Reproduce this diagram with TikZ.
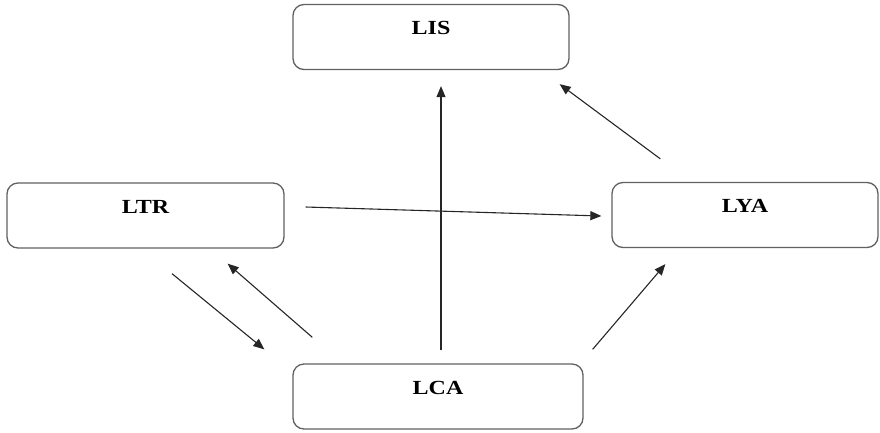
\documentclass[tikz,border=0pt]{standalone}
\usepackage{fontspec}
\setmainfont{Liberation Serif}
\newfontfamily\boxfont[FakeStretch=1.2]{Liberation Serif}
\usetikzlibrary{arrows.meta,calc}

\begin{document}
\begin{tikzpicture}[>={Triangle[length=11pt,width=9pt]}, x=1pt, y=-1pt,
    box/.style={draw=black!62, line width=1.3pt, rounded corners=11pt,
        inner xsep=0pt, inner ysep=0pt, text height=30pt, text depth=35pt,
        font=\boxfont\fontsize{20}{24}\selectfont\bfseries},
    link/.style={->, draw=black!85, line width=1.1pt}]
\useasboundingbox (0,0) rectangle (880,432);

% the four boxes
\node[box, minimum width=276pt] (lis) at (431,37) {LIS};
\node[box, minimum width=277pt] (ltr) at (145.5,215.5) {LTR};
\node[box, minimum width=266pt] (lya) at (745,215) {LYA};
\node[box, minimum width=290pt] (lca) at (438,396.5) {LCA};

% links
\draw[link] ($(lca.north)+(3,-13)$) -- ($(lis.south)+(10,16)$);
\draw[link] ($(lya.north west)+(49,-23)$) -- ($(lis.south east)+(-10,14)$);
\draw[link] ($(ltr.east)+(21,-8.5)$) -- ($(lya.west)+(-10,1)$);
\draw[link] ($(ltr.south)+(26.5,25)$) -- ($(lca.north west)+(-28,-14)$);
\draw[link] ($(lca.north west)+(20,-26)$) -- ($(ltr.south east)+(-57,15)$);
\draw[link] ($(lca.north east)+(9,-14)$) -- ($(lya.south west)+(54,16)$);
\end{tikzpicture}
\end{document}
